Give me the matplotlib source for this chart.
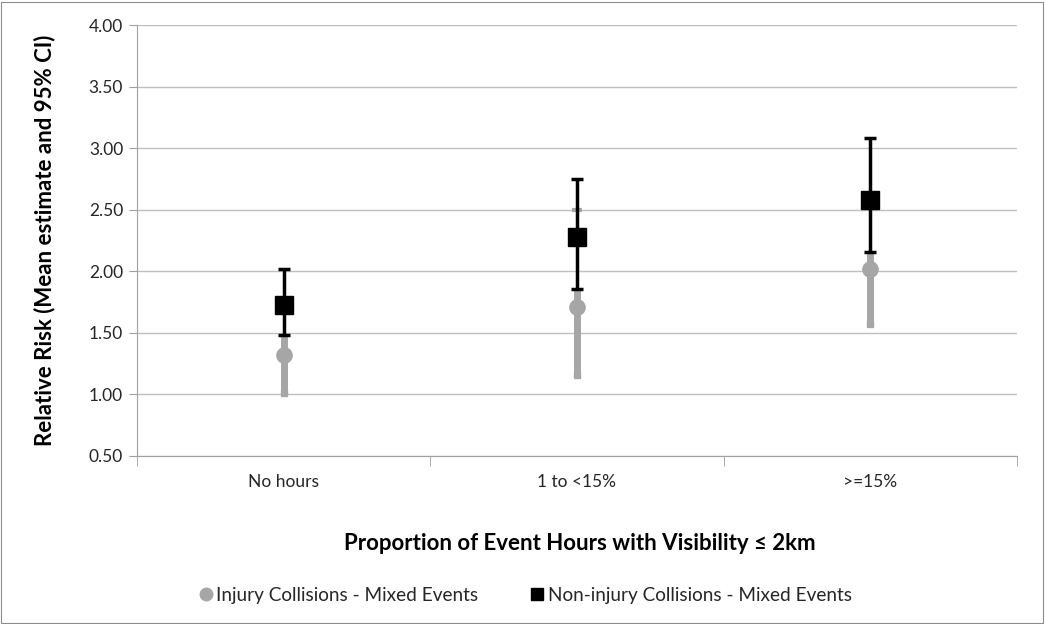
import matplotlib
matplotlib.use("Agg")
import matplotlib.pyplot as plt
from matplotlib.lines import Line2D
from matplotlib.patches import Rectangle
import numpy as np

categories = ["No hours", "1 to <15%", ">=15%"]
injury_mean = [1.32, 1.71, 2.02]
injury_low = [1.01, 1.16, 1.57]
injury_high = [1.72, 2.50, 2.56]
noninj_mean = [1.73, 2.28, 2.58]
noninj_low = [1.48, 1.86, 2.16]
noninj_high = [2.02, 2.75, 3.08]
yticks = [0.5, 1.0, 1.5, 2.0, 2.5, 3.0, 3.5, 4.0]

plt.rcParams['font.family'] = ['Lato', 'DejaVu Sans']

W, H = 1045, 624
fig = plt.figure(figsize=(W / 100, H / 100), dpi=100)
fig.patches.append(Rectangle((1 / W, 1 / H), 1 - 3 / W, 1 - 3 / H, transform=fig.transFigure,
                             fill=False, edgecolor='#8c8c8c', linewidth=0.8))
ax = fig.add_axes([137 / W, 1 - 456 / H, (1017 - 137) / W, (456 - 25) / H])

x = np.arange(len(categories))
grey = '#a6a6a6'
txt = '#262626'

# injury (grey) error bars, visible part below the black bars
g_top = [min(h, nl) for h, nl in zip(injury_high, noninj_low)]
ax.vlines(x, injury_low, g_top, color=grey, linewidth=5, zorder=3)
ax.plot(x, injury_low, linestyle='none', marker='s', markersize=5, color=grey, zorder=3)
ax.plot(x, injury_high, linestyle='none', marker='_', markersize=7, markeredgewidth=3,
        color=grey, zorder=3)
ax.plot(x, injury_mean, linestyle='none', marker='o', markersize=11, color=grey, zorder=4)

# non-injury (black)
ax.errorbar(x, noninj_mean,
            yerr=[np.array(noninj_mean) - np.array(noninj_low),
                  np.array(noninj_high) - np.array(noninj_mean)],
            fmt='s', color='black', markersize=13, ecolor='black', elinewidth=2.5,
            capsize=4, capthick=2.5, zorder=5)

ax.set_xlim(-0.5, len(categories) - 0.5)
ax.set_ylim(0.5, 4.0)
ax.set_yticks(yticks)
ax.set_yticklabels([f"{v:.2f}" for v in yticks], fontsize=12.5, color=txt)
ax.set_xticks(x)
ax.set_xticklabels(categories, fontsize=12.5, color=txt)
ax.tick_params(axis='x', length=0, pad=13)
ax.set_xticks(np.arange(-0.5, len(categories)), minor=True)
ax.tick_params(axis='x', which='minor', length=7, color='#a0a0a0')
ax.tick_params(axis='y', length=6, color='#a0a0a0', pad=4)
ax.yaxis.grid(True, color='#c0c0c0', linewidth=1)
ax.set_axisbelow(True)
for s in ['top', 'right']:
    ax.spines[s].set_visible(False)
for s in ['left', 'bottom']:
    ax.spines[s].set_color('#a0a0a0')

ax.set_ylabel("Relative Risk (Mean estimate and 95% CI)", fontsize=16, fontweight='bold',
              color='black', va='center')
ax.yaxis.set_label_coords((45 - 137) / 880, 0.5)
fig.text((137 + 1017) / 2 / W + 3 / W, 1 - 543 / H, "Proportion of Event Hours with Visibility \u2264 2km",
         ha='center', va='center', fontsize=16, fontweight='bold')

handles = [Line2D([], [], linestyle='none', marker='o', color=grey, markersize=9),
           Line2D([], [], linestyle='none', marker='s', color='black', markersize=9)]
fig.legend(handles, ["Injury Collisions - Mixed Events", "Non-injury Collisions - Mixed Events"],
           loc='center', bbox_to_anchor=(524 / W, 1 - 595 / H), ncol=2, frameon=False,
           fontsize=13.7, handletextpad=0.05, columnspacing=2.6, handlelength=1.0,
           labelcolor=txt)

fig.savefig("out.png", dpi=100)
